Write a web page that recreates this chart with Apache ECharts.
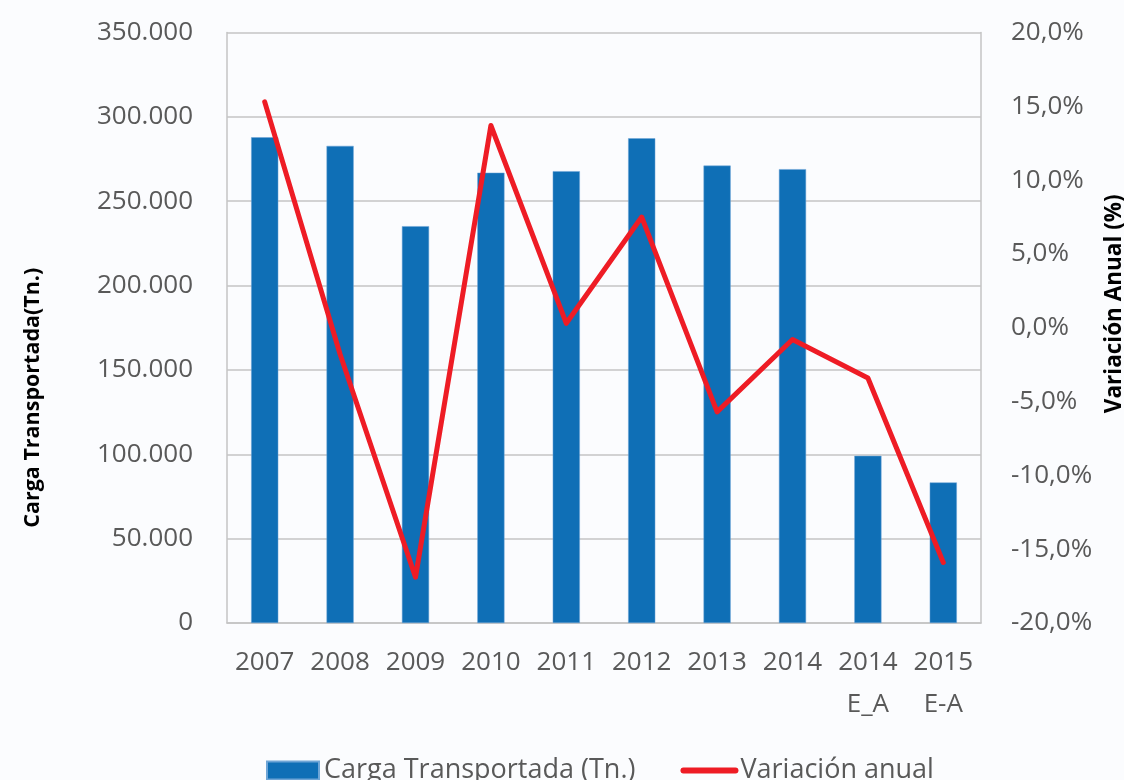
<!DOCTYPE html>
<html>
<head>
<meta charset="utf-8">
<script src="https://cdn.jsdelivr.net/npm/echarts@6/dist/echarts.min.js"></script>
<style>
  html, body { margin: 0; padding: 0; background: #fbfcfe; overflow: hidden; }
  #chart { width: 1124px; height: 780px; }
</style>
</head>
<body>
<div id="chart"></div>
<script>
// values
const categories = ['2007', '2008', '2009', '2010', '2011', '2012', '2013', '2014', '2014\nE_A', '2015\nE-A']
const carga = [287900, 282800, 235200, 266900, 267800, 287300, 271100, 269000, 99100, 83300] // Tn.
const variacion = [15.3, -1.8, -16.9, 13.7, 0.3, 7.5, -5.7, -0.8, -3.4, -15.9] // %

const gray = '#595959'
const gridGray = '#c4c4c4'
const font = '"Open Sans", sans-serif'

const chart = echarts.init(document.getElementById('chart'))

chart.setOption({
    backgroundColor: '#fbfcfe',
    textStyle: { fontFamily: font },
    animation: false,
    grid: { left: 227, right: 143, top: 32.5, bottom: 157, outerBoundsMode: 'none' },
    legend: {
        left: 261,
        top: 752,
        itemWidth: 52,
        itemHeight: 18,
        itemGap: 45,
        textStyle: { fontSize: 27, color: gray, fontFamily: font },
        data: [
            { name: 'Carga Transportada (Tn.)', icon: 'rect' },
            { name: 'Variación anual', itemStyle: { opacity: 0 }, lineStyle: { width: 6, color: '#ee1c25' } }
        ]
    },
    xAxis: {
        type: 'category',
        data: categories,
        axisTick: { show: false },
        axisLine: { lineStyle: { color: gridGray, width: 1.5 } },
        axisLabel: { fontSize: 26, color: gray, lineHeight: 42, margin: 19, interval: 0 }
    },
    yAxis: [
        {
            type: 'value',
            min: 0,
            max: 350000,
            interval: 50000,
            name: 'Carga Transportada(Tn.)',
            nameLocation: 'middle',
            nameRotate: 90,
            nameGap: 183,
            nameTextStyle: { fontSize: 21.5, fontWeight: 'bold', color: '#000', padding: [0, 140, 0, 0] },
            axisLine: { show: true, lineStyle: { color: gridGray, width: 1.5 } },
            axisTick: { show: false },
            splitLine: { lineStyle: { color: gridGray, width: 1.5 } },
            axisLabel: {
                fontSize: 26,
                color: gray,
                margin: 34,
                formatter: v => v === 0 ? '0' : String(v).replace(/\B(?=(\d{3})+(?!\d))/g, '.')
            }
        },
        {
            type: 'value',
            min: -20,
            max: 20,
            interval: 5,
            name: 'Variación Anual (%)',
            nameLocation: 'middle',
            nameRotate: 90,
            nameGap: 120,
            nameTextStyle: { fontSize: 22.5, fontWeight: 'bold', color: '#000', padding: [0, 0, 0, 48] },
            axisLine: { show: true, lineStyle: { color: gridGray, width: 1.5 } },
            axisTick: { show: false },
            splitLine: { show: false },
            axisLabel: {
                fontSize: 26,
                color: gray,
                margin: 30,
                formatter: v => v.toFixed(1).replace('.', ',') + '%'
            }
        }
    ],
    series: [
        {
            name: 'Carga Transportada (Tn.)',
            type: 'bar',
            data: carga,
            barWidth: '36%',
            itemStyle: { color: '#0f6fb6', borderColor: '#6fa5d6', borderWidth: 0.5 }
        },
        {
            name: 'Variación anual',
            type: 'line',
            yAxisIndex: 1,
            data: variacion,
            symbol: 'none',
            z: 5,
            lineStyle: { color: '#ee1c25', width: 5, cap: 'round', join: 'round' },
            itemStyle: { color: '#ee1c25' }
        }
    ]
})
</script>
</body>
</html>
